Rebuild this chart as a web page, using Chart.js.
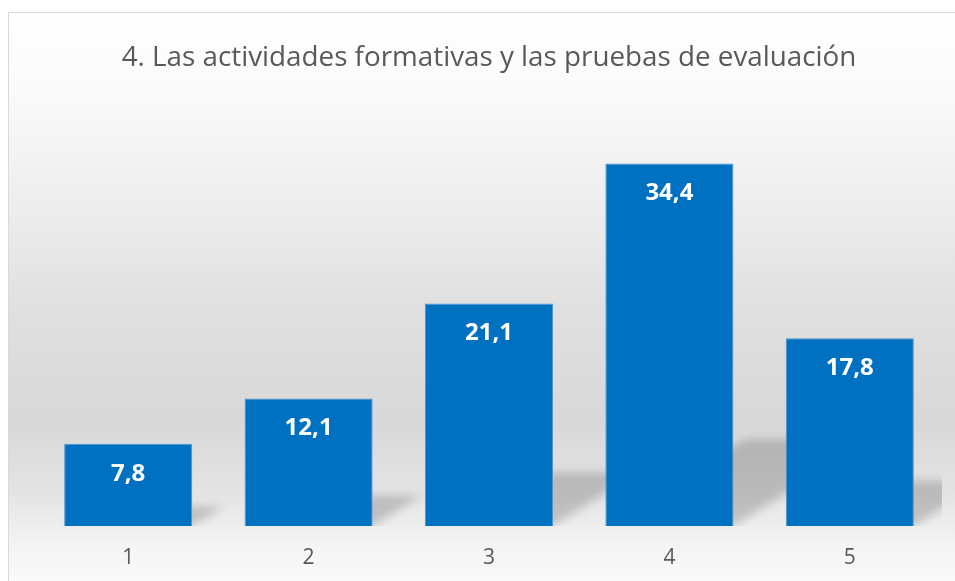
<!DOCTYPE html>
<html>
<head>
<meta charset="utf-8">
<script src="https://cdn.jsdelivr.net/npm/chart.js@4.4.1/dist/chart.umd.min.js"></script>
<style>
  html, body { margin: 0; padding: 0; background: #ffffff; }
  #wrap { width: 955px; height: 581px; position: relative; }
</style>
</head>
<body>
<div id="wrap"><canvas id="c" width="955" height="581"></canvas></div>
<script>
const titleText = "4. Las actividades formativas y las pruebas de evaluación";
const categories = ["1", "2", "3", "4", "5"];
const values = [7.8, 12.1, 21.1, 34.4, 17.8];
const yMax = 40;

const bgPlugin = {
  id: 'bgPlugin',
  beforeDraw(chart) {
    const ctx = chart.ctx;
    ctx.save();
    const g = ctx.createLinearGradient(0, 12, 0, 581);
    g.addColorStop(0.00, '#ffffff');
    g.addColorStop(0.14, '#fafafa');
    g.addColorStop(0.33, '#eeeeee');
    g.addColorStop(0.52, '#e0e0e0');
    g.addColorStop(0.72, '#d8d8d8');
    g.addColorStop(0.84, '#e3e3e3');
    g.addColorStop(0.94, '#f4f4f4');
    g.addColorStop(1.00, '#fafafa');
    ctx.fillStyle = g;
    ctx.fillRect(8, 12, 955 - 8, 581 - 12);
    ctx.strokeStyle = '#d9d9d9';
    ctx.lineWidth = 1;
    ctx.beginPath();
    ctx.moveTo(8.5, 581);
    ctx.lineTo(8.5, 12.5);
    ctx.lineTo(955, 12.5);
    ctx.stroke();
    ctx.restore();
  }
};

const shadowPlugin = {
  id: 'shadowPlugin',
  beforeDatasetsDraw(chart) {
    const ctx = chart.ctx;
    const area = chart.chartArea;
    const meta = chart.getDatasetMeta(0);
    ctx.save();
    ctx.beginPath();
    ctx.rect(area.left, area.top, area.right - area.left + 2, area.bottom - area.top);
    ctx.clip();
    ctx.filter = 'blur(5px)';
    ctx.fillStyle = 'rgba(0,0,0,0.18)';
    meta.data.forEach(bar => {
      const p = bar.getProps(['x', 'y', 'base', 'width'], true);
      const L = p.x - p.width / 2, R = p.x + p.width / 2;
      const B = p.base, h = p.base - p.y;
      const sh = 0.24 * h;
      const sx = 1.6 * sh;
      ctx.beginPath();
      ctx.moveTo(L, B);
      ctx.lineTo(R, B);
      ctx.lineTo(R + sx, B - sh);
      ctx.lineTo(L + sx, B - sh);
      ctx.closePath();
      ctx.fill();
    });
    ctx.restore();
  }
};

const labelPlugin = {
  id: 'labelPlugin',
  afterDatasetsDraw(chart) {
    const ctx = chart.ctx;
    const meta = chart.getDatasetMeta(0);
    ctx.save();
    ctx.fillStyle = '#ffffff';
    ctx.font = 'bold 24px "Open Sans"';
    ctx.textAlign = 'center';
    ctx.textBaseline = 'middle';
    meta.data.forEach((bar, i) => {
      const p = bar.getProps(['x', 'y'], true);
      ctx.fillText(String(values[i]).replace('.', ','), p.x, p.y + 30);
    });
    ctx.restore();
  }
};

new Chart(document.getElementById('c'), {
  type: 'bar',
  data: {
    labels: categories,
    datasets: [{
      data: values,
      backgroundColor: '#0070c0',
      borderColor: '#4a95d3',
      borderWidth: 1,
      barPercentage: 1,
      categoryPercentage: 0.71
    }]
  },
  options: {
    responsive: false,
    animation: false,
    layout: { padding: { left: 38, right: 15, top: 0, bottom: 0 } },
    plugins: {
      legend: { display: false },
      tooltip: { enabled: false },
      title: {
        display: true,
        text: titleText,
        color: '#595959',
        font: { family: '"Open Sans"', size: 27.8, weight: 'normal' },
        padding: { top: 41, bottom: 30 }
      }
    },
    scales: {
      x: {
        grid: { display: false },
        border: { display: false },
        ticks: { color: '#595959', font: { family: '"Open Sans"', size: 21 }, padding: 11 },
        afterFit(scale) { scale.height = 55; }
      },
      y: {
        display: false,
        min: 0,
        max: yMax
      }
    }
  },
  plugins: [bgPlugin, shadowPlugin, labelPlugin]
});
</script>
</body>
</html>
